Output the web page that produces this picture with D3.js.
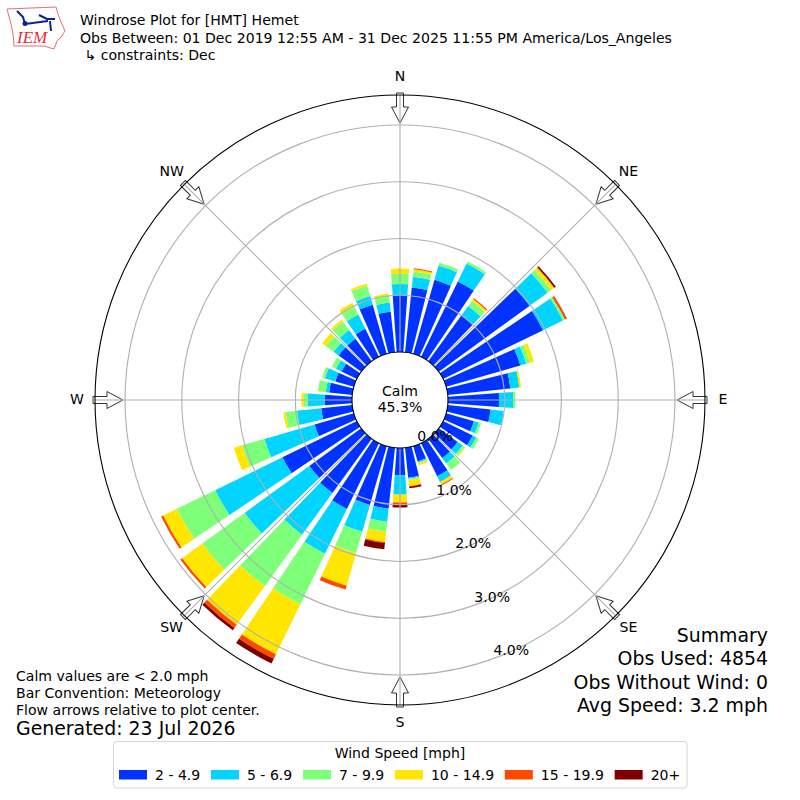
<!DOCTYPE html>
<html>
<head>
<meta charset="utf-8">
<script src="https://cdn.jsdelivr.net/npm/d3@7"></script>
<style>
  html, body { margin: 0; padding: 0; background: white; }
  svg { display: block; }
  text { font-family: "DejaVu Sans", sans-serif; fill: black; }
</style>
</head>
<body>
<script>
// wind direction of each bar, degrees clockwise from north
var directions = d3.range(0, 360, 10);

// percent of observations per speed bin, one value per direction
var speed2to5 = [1.01, 1.15, 1.36, 1.48, 1.01, 1.98, 1.96, 1.36, 1.11, 0.90, 0.76, 0.51,
                 0.58, 0.41, 0.42, 0.65, 0.28, 0.53, 0.48, 1.08, 1.08, 1.29, 1.18, 1.13,
                 1.46, 0.72, 0.55, 0.48, 0.41, 0.34, 0.30, 0.49, 0.49, 0.55, 0.90, 0.72];
var speed5to7 = [0.19, 0.19, 0.26, 0.35, 0.19, 0.39, 0.39, 0.11, 0.16, 0.25, 0.23, 0.09,
                 0.07, 0.11, 0.12, 0.11, 0.02, 0.02, 0.34, 0.23, 0.49, 0.88, 0.91, 1.41,
                 1.32, 0.92, 0.43, 0.30, 0.06, 0.19, 0.11, 0.11, 0.19, 0.28, 0.16, 0.16];
var speed7to10 = [0.18, 0.09, 0.05, 0.04, 0.11, 0.08, 0.04, 0.07, 0.00, 0.04, 0.00, 0.04,
                  0.05, 0.04, 0.14, 0.00, 0.01, 0.02, 0.00, 0.18, 0.39, 0.99, 1.12, 0.92,
                  0.75, 0.41, 0.20, 0.07, 0.14, 0.05, 0.08, 0.17, 0.18, 0.16, 0.19, 0.12];
var speed10to15 = [0.09, 0.04, 0.00, 0.00, 0.04, 0.06, 0.00, 0.07, 0.03, 0.00, 0.00, 0.00,
                   0.00, 0.02, 0.00, 0.05, 0.04, 0.11, 0.14, 0.18, 0.60, 0.98, 0.84, 0.44,
                   0.27, 0.15, 0.04, 0.04, 0.00, 0.00, 0.00, 0.08, 0.04, 0.07, 0.04, 0.04];
var speed15to20 = [0.00, 0.02, 0.00, 0.00, 0.02, 0.01, 0.04, 0.00, 0.00, 0.00, 0.00, 0.00,
                   0.00, 0.00, 0.00, 0.02, 0.00, 0.01, 0.04, 0.02, 0.07, 0.09, 0.07, 0.04,
                   0.04, 0.00, 0.00, 0.00, 0.00, 0.00, 0.00, 0.00, 0.00, 0.00, 0.00, 0.00];
var speed20plus = [0.00, 0.00, 0.00, 0.00, 0.00, 0.03, 0.00, 0.00, 0.00, 0.00, 0.00, 0.00,
                   0.00, 0.00, 0.00, 0.00, 0.00, 0.03, 0.05, 0.11, 0.00, 0.09, 0.05, 0.00,
                   0.00, 0.00, 0.00, 0.00, 0.00, 0.00, 0.00, 0.00, 0.00, 0.00, 0.00, 0.00];

var speedBins = [speed2to5, speed5to7, speed7to10, speed10to15, speed15to20, speed20plus];
var speedLabels = ["2 - 4.9", "5 - 6.9", "7 - 9.9", "10 - 14.9", "15 - 19.9", "20+"];
var speedColors = ["#0033ff", "#00d4ff", "#7dff7a", "#ffe600", "#ff4800", "#7f0000"];

var ringTicks = [0, 1, 2, 3, 4];
var compassNames = ["N", "NE", "E", "SE", "S", "SW", "W", "NW"];
var compassAngles = [0, 45, 90, 135, 180, 225, 270, 315];

var titleLines = ["Windrose Plot for [HMT] Hemet",
    "Obs Between: 01 Dec 2019 12:55 AM - 31 Dec 2025 11:55 PM America/Los_Angeles",
    " \u21B3 constraints: Dec"];
var noteLines = ["Calm values are < 2.0 mph", "Bar Convention: Meteorology", "Flow arrows relative to plot center."];
var summaryLines = ["Summary", "Obs Used: 4854", "Obs Without Wind: 0", "Avg Speed: 3.2 mph"];

var cx = 400, cy = 400, outerR = 305, calmR = 48;
var rad = Math.PI / 180;
var fontSmall = 14.05, fontBig = 18.9;

var svg = d3.select("body").append("svg").attr("width", 800).attr("height", 800);
var plot = svg.append("g").attr("transform", "translate(" + cx + "," + cy + ")");

var r = d3.scaleLinear().domain([0, 4.53]).range([calmR, outerR]);

function polar(deg, radius) {
    return [radius * Math.sin(deg * rad), -radius * Math.cos(deg * rad)];
}

// stack the bins for each direction
var rows = directions.map(function (d, i) {
    var row = { dir: d };
    speedBins.forEach(function (bin, b) { row[b] = bin[i]; });
    return row;
});
var series = d3.stack().keys(d3.range(speedBins.length))(rows);

var arc = d3.arc();
var barWidth = 8;

plot.selectAll("g.bin").data(series).enter().append("g")
    .attr("class", "bin")
    .attr("fill", function (s, i) { return speedColors[i]; })
    .selectAll("path").data(function (s) { return s.filter(function (d) { return d[1] > d[0]; }); })
    .enter().append("path")
    .attr("d", function (d) {
        return arc({
            innerRadius: r(d[0]),
            outerRadius: r(d[1]),
            startAngle: (d.data.dir - barWidth / 2) * rad,
            endAngle: (d.data.dir + barWidth / 2) * rad
        });
    });

// rings
plot.selectAll("circle.ring").data(ringTicks.slice(1)).enter().append("circle")
    .attr("class", "ring")
    .attr("r", function (d) { return r(d); })
    .attr("fill", "none").attr("stroke", "#b0b0b0").attr("stroke-width", 1.1);

// flow arrows, drawn pointing down from the top and then rotated
var arrowPath = "M-3.5,-307 L3.5,-307 L3.5,-293 L8.5,-293 L0,-277 L-8.5,-293 L-3.5,-293 Z";
plot.selectAll("path.arrow").data(compassAngles).enter().append("path")
    .attr("class", "arrow")
    .attr("d", arrowPath)
    .attr("transform", function (d) { return "rotate(" + d + ")"; })
    .attr("fill", "white").attr("stroke", "#333").attr("stroke-width", 1);

// spokes
plot.selectAll("line.spoke").data(compassAngles).enter().append("line")
    .attr("class", "spoke")
    .attr("x1", function (d) { return polar(d, calmR)[0]; })
    .attr("y1", function (d) { return polar(d, calmR)[1]; })
    .attr("x2", function (d) { return polar(d, outerR)[0]; })
    .attr("y2", function (d) { return polar(d, outerR)[1]; })
    .attr("stroke", "#b0b0b0").attr("stroke-width", 1.1);

plot.append("circle").attr("r", outerR).attr("fill", "none").attr("stroke", "black").attr("stroke-width", 1.1);
plot.append("circle").attr("r", calmR).attr("fill", "white").attr("stroke", "black").attr("stroke-width", 1.1);

plot.append("text").attr("y", -4).attr("text-anchor", "middle").attr("font-size", fontSmall).text("Calm");
plot.append("text").attr("y", 12).attr("text-anchor", "middle").attr("font-size", fontSmall).text("45.3%");

// percent labels sit along one line, pushed off the ring a bit
plot.selectAll("text.rtick").data(ringTicks).enter().append("text")
    .attr("class", "rtick")
    .attr("x", function (d) { return polar(160.4, r(d))[0] + 19; })
    .attr("y", function (d) { return polar(160.4, r(d))[1] - 4; })
    .attr("text-anchor", "middle").attr("font-size", fontSmall)
    .text(function (d) { return d3.format(".1f")(d) + "%"; });

plot.selectAll("text.compass").data(compassNames).enter().append("text")
    .attr("class", "compass")
    .attr("x", function (d, i) { return polar(compassAngles[i], 323)[0]; })
    .attr("y", function (d, i) { return polar(compassAngles[i], 323)[1] + 4; })
    .attr("text-anchor", "middle").attr("font-size", fontSmall)
    .text(function (d) { return d; });

// title block
svg.selectAll("text.title").data(titleLines).enter().append("text")
    .attr("class", "title")
    .attr("x", 80)
    .attr("y", function (d, i) { return 25 + i * 17.5; })
    .attr("font-size", 14.09).style("white-space", "pre")
    .text(function (d) { return d; });

// IEM logo
var logo = svg.append("g");
logo.append("path")
    .attr("d", "M7,9 L56,7 L58,14 L61,22 L65,31 L61,37 L57,41 L54,49 L44,46 L14,46 L13,34 L11,24 Z")
    .attr("fill", "white").attr("stroke", "#e47070").attr("stroke-width", 1);
logo.append("path")
    .attr("d", "M25,24 L48,21 M17,11 L23,17 L25,24 M39,15 L47,19 L55,19 M50,21 L51,31")
    .attr("fill", "none").attr("stroke", "#10209a").attr("stroke-width", 2);
logo.append("circle").attr("cx", 25).attr("cy", 23.5).attr("r", 2.5).attr("fill", "#10209a");
logo.append("text").attr("x", 17).attr("y", 43).attr("font-size", 17).attr("font-style", "italic")
    .style("font-family", "'Liberation Serif', serif").style("fill", "#d8333a").text("IEM");

// notes bottom left
svg.selectAll("text.note").data(noteLines).enter().append("text")
    .attr("class", "note")
    .attr("x", 16)
    .attr("y", function (d, i) { return 681 + i * 17; })
    .attr("font-size", fontSmall)
    .text(function (d) { return d; });
svg.append("text").attr("x", 16).attr("y", 735).attr("font-size", fontBig)
    .text("Generated: 23 Jul 2026");

// summary bottom right
svg.selectAll("text.summary").data(summaryLines).enter().append("text")
    .attr("class", "summary")
    .attr("x", 768)
    .attr("y", function (d, i) { return 642 + i * 23.4; })
    .attr("text-anchor", "end").attr("font-size", fontBig)
    .text(function (d) { return d; });

// legend
var legend = svg.append("g");
legend.append("rect")
    .attr("x", 113.5).attr("y", 741.5).attr("width", 573.5).attr("height", 46.5).attr("rx", 3)
    .attr("fill", "white").attr("stroke", "#d5d5d5").attr("stroke-width", 1);
legend.append("text").attr("x", 400).attr("y", 758).attr("text-anchor", "middle").attr("font-size", fontSmall)
    .text("Wind Speed [mph]");

var legendX = 119;
speedLabels.forEach(function (label, i) {
    legend.append("rect").attr("x", legendX).attr("y", 770).attr("width", 28).attr("height", 9.5)
        .attr("fill", speedColors[i]);
    var t = legend.append("text").attr("x", legendX + 36).attr("y", 780).attr("font-size", fontSmall).text(label);
    legendX += 36 + t.node().getComputedTextLength() + 10.7;
});
</script>
</body>
</html>
